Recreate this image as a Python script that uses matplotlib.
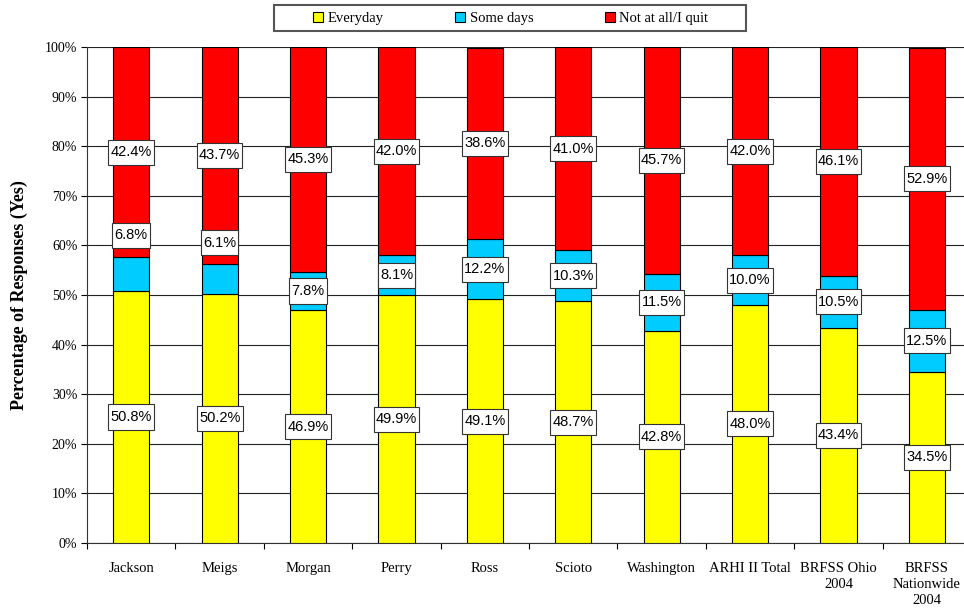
import matplotlib
matplotlib.use('Agg')
import matplotlib.pyplot as plt
from matplotlib.path import Path
from matplotlib.patches import Rectangle
import numpy as np

counties = ['Jackson', 'Meigs', 'Morgan', 'Perry', 'Ross', 'Scioto', 'Washington',
            'ARHI II Total', 'BRFSS Ohio\n2004', 'BRFSS\nNationwide\n2004']
everyday = [50.8, 50.2, 46.9, 49.9, 49.1, 48.7, 42.8, 48.0, 43.4, 34.5]
some_days = [6.8, 6.1, 7.8, 8.1, 12.2, 10.3, 11.5, 10.0, 10.5, 12.5]
not_at_all = [42.4, 43.7, 45.3, 42.0, 38.6, 41.0, 45.7, 42.0, 46.1, 52.9]

# Excel pushed the two thin "Some days" labels up (in % points off the segment middle)
cyan_label_shift = [7.8, 7.3, 0, 0, 0, 0, 0, 0, 0, 0]

serif = 'Liberation Serif'
sans = 'Liberation Sans'


def label_box(x0, y0, width, height, mutation_size):
    # square box, more room above/below the text than at the sides
    px = 0.15 * mutation_size
    py = 0.38 * mutation_size
    l, r = x0 - px, x0 + width + px
    b, t = y0 - py, y0 + height + py
    return Path([(l, b), (r, b), (r, t), (l, t), (l, b)], closed=True)


fig = plt.figure(figsize=(9.64, 6.09), dpi=100)
ax = fig.add_axes([0.0903, 0.1084, 0.917, 0.8144])

x = np.arange(len(counties))
w = 0.41
ev = np.array(everyday)
sd = np.array(some_days)
na = np.array(not_at_all)

b1 = ax.bar(x, ev, w, color='#FFFF00', edgecolor='black', linewidth=0.8, label='Everyday', zorder=3)
b2 = ax.bar(x, sd, w, bottom=ev, color='#00CCFF', edgecolor='black', linewidth=0.8, label='Some days', zorder=3)
b3 = ax.bar(x, na, w, bottom=ev + sd, color='#FF0000', edgecolor='black', linewidth=0.8,
            label='Not at all/I quit', zorder=3)

box = dict(boxstyle=label_box, facecolor='white', edgecolor='#333333', linewidth=0.8)
for i in range(len(x)):
    ax.text(x[i], ev[i] / 2, '%.1f%%' % ev[i], ha='center', va='center',
            fontsize=10.5, family=sans, bbox=box, zorder=5)
    ax.text(x[i], ev[i] + sd[i] / 2 + cyan_label_shift[i], '%.1f%%' % sd[i], ha='center',
            va='center', fontsize=10.5, family=sans, bbox=box, zorder=5)
    ax.text(x[i], ev[i] + sd[i] + na[i] / 2, '%.1f%%' % na[i], ha='center', va='center',
            fontsize=10.5, family=sans, bbox=box, zorder=5)

ax.set_xlim(-0.5, len(x) - 0.5)
ax.set_ylim(0, 100)
ax.set_yticks(np.arange(0, 101, 10))
ax.set_yticklabels(['%d%%' % v for v in range(0, 101, 10)], family=serif, fontsize=10)
ax.yaxis.grid(True, color='#222222', linewidth=0.8, zorder=0)
ax.set_axisbelow(True)

ax.set_xticks(x)
ax.set_xticklabels(counties, family=serif, fontsize=10.5, linespacing=1.3)
ax.tick_params(axis='x', length=0, pad=14)
ax.set_xticks(np.arange(-0.5, len(x), 1), minor=True)
ax.tick_params(axis='x', which='minor', length=4, width=0.8, direction='out')
ax.tick_params(axis='y', length=4, width=0.8, direction='out', pad=3)

for s in ['top', 'right']:
    ax.spines[s].set_visible(False)
ax.spines['left'].set_color('#333333')
ax.spines['bottom'].set_color('#333333')

ax.set_ylabel('Percentage of Responses (Yes)', family=serif, fontsize=13, fontweight='bold', labelpad=12)

# legend: entries without frame, plus a separate wide box like Excel draws it
leg = fig.legend(handles=[b1, b2, b3], loc='center left', bbox_to_anchor=(0.3247, 0.9696), ncol=3,
                 prop={'family': serif, 'size': 10.5}, frameon=False,
                 handlelength=0.7, handleheight=0.7, handletextpad=0.3, columnspacing=4.9,
                 borderpad=0, borderaxespad=0)
fig.patches.append(Rectangle((0.2842, 0.9491), 0.4896, 0.0427, transform=fig.transFigure,
                             facecolor='white', edgecolor='#555555', linewidth=1.5, zorder=0))

fig.savefig('out.png', dpi=100)
